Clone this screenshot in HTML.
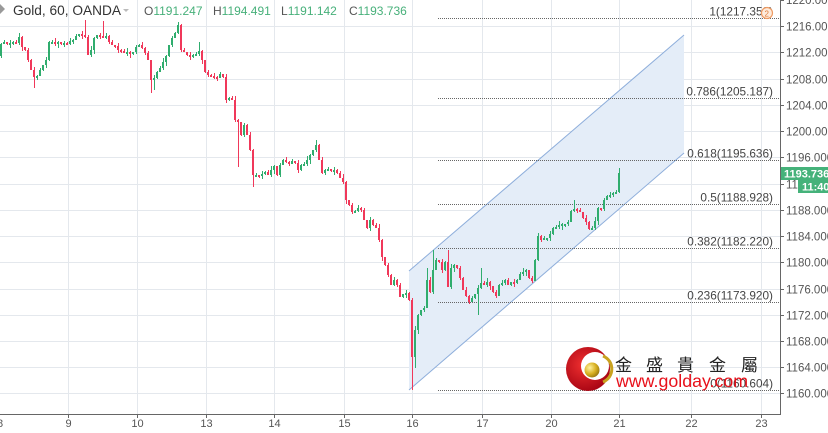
<!DOCTYPE html>
<html><head><meta charset="utf-8">
<style>
html,body{margin:0;padding:0;background:#fff;}
svg{display:block;}
text{font-family:"Liberation Sans",Arial,sans-serif;}
.ax{font-size:11.5px;fill:#555;}
.fb{font-size:11.8px;fill:#444;}
</style></head>
<body>
<svg id="c" width="828" height="433" viewBox="0 0 828 433" xmlns="http://www.w3.org/2000/svg">
<rect width="828" height="433" fill="#fff"/>
<!-- grid -->
<g stroke="#e4e8ed" stroke-width="1">
<line x1="0" x2="780" y1="26.5" y2="26.5"/>
<line x1="0" x2="780" y1="52.5" y2="52.5"/>
<line x1="0" x2="780" y1="79.5" y2="79.5"/>
<line x1="0" x2="780" y1="105.5" y2="105.5"/>
<line x1="0" x2="780" y1="131.5" y2="131.5"/>
<line x1="0" x2="780" y1="157.5" y2="157.5"/>
<line x1="0" x2="780" y1="184.5" y2="184.5"/>
<line x1="0" x2="780" y1="210.5" y2="210.5"/>
<line x1="0" x2="780" y1="236.5" y2="236.5"/>
<line x1="0" x2="780" y1="262.5" y2="262.5"/>
<line x1="0" x2="780" y1="289.5" y2="289.5"/>
<line x1="0" x2="780" y1="315.5" y2="315.5"/>
<line x1="0" x2="780" y1="341.5" y2="341.5"/>
<line x1="0" x2="780" y1="367.5" y2="367.5"/>
<line x1="0" x2="780" y1="393.5" y2="393.5"/>
<line x1="68.5" x2="68.5" y1="0" y2="414"/>
<line x1="137.5" x2="137.5" y1="0" y2="414"/>
<line x1="206.5" x2="206.5" y1="0" y2="414"/>
<line x1="274.5" x2="274.5" y1="0" y2="414"/>
<line x1="344.5" x2="344.5" y1="0" y2="414"/>
<line x1="412.5" x2="412.5" y1="0" y2="414"/>
<line x1="482.5" x2="482.5" y1="0" y2="414"/>
<line x1="551.5" x2="551.5" y1="0" y2="414"/>
<line x1="619.5" x2="619.5" y1="0" y2="414"/>
<line x1="691.5" x2="691.5" y1="0" y2="414"/>
<line x1="761.5" x2="761.5" y1="0" y2="414"/>
</g>
<!-- channel -->
<polygon points="409,271 684,35 684,153 409,390" fill="#e4edf8"/>
<line x1="409" y1="271" x2="684" y2="35" stroke="#8eaedb" stroke-width="1"/>
<line x1="409" y1="390" x2="684" y2="153" stroke="#8eaedb" stroke-width="1"/>
<!-- fib lines -->
<g stroke="#666" stroke-width="1" stroke-dasharray="1,1">
<line x1="438" x2="780" y1="18.5" y2="18.5"/>
<line x1="438" x2="780" y1="98.5" y2="98.5"/>
<line x1="438" x2="780" y1="160.5" y2="160.5"/>
<line x1="438" x2="780" y1="204.5" y2="204.5"/>
<line x1="438" x2="780" y1="248.5" y2="248.5"/>
<line x1="438" x2="780" y1="302.5" y2="302.5"/>
<line x1="438" x2="780" y1="390.5" y2="390.5"/>
</g>
<g class="fb" text-anchor="end">
<text x="773" y="15.5">1(1217.352)</text>
<text x="773" y="95.5">0.786(1205.187)</text>
<text x="773" y="157.5">0.618(1195.636)</text>
<text x="773" y="201.5">0.5(1188.928)</text>
<text x="773" y="245.5">0.382(1182.220)</text>
<text x="773" y="299.5">0.236(1173.920)</text>
<text x="773" y="387.5">0(1160.604)</text>
</g>
<!-- candles -->
<g id="candles"></g>
<!-- alert icon -->
<circle cx="767" cy="13" r="5.5" fill="#fdebdc" stroke="#ee9a62" stroke-width="1.2"/>
<text x="764.5" y="16.5" font-size="8" fill="#e07a3a">2</text>
<!-- axes -->
<rect x="781" y="0" width="47" height="433" fill="#fff"/>
<rect x="0" y="415" width="828" height="18" fill="#fff"/>
<line x1="780.5" y1="0" x2="780.5" y2="415" stroke="#666" stroke-width="1"/>
<line x1="0" y1="414.5" x2="781" y2="414.5" stroke="#666" stroke-width="1"/>
<g stroke="#666" stroke-width="1">
<line x1="780" x2="784" y1="0.5" y2="0.5"/>
<line x1="780" x2="784" y1="26.5" y2="26.5"/>
<line x1="780" x2="784" y1="52.5" y2="52.5"/>
<line x1="780" x2="784" y1="79.5" y2="79.5"/>
<line x1="780" x2="784" y1="105.5" y2="105.5"/>
<line x1="780" x2="784" y1="131.5" y2="131.5"/>
<line x1="780" x2="784" y1="157.5" y2="157.5"/>
<line x1="780" x2="784" y1="184.5" y2="184.5"/>
<line x1="780" x2="784" y1="210.5" y2="210.5"/>
<line x1="780" x2="784" y1="236.5" y2="236.5"/>
<line x1="780" x2="784" y1="262.5" y2="262.5"/>
<line x1="780" x2="784" y1="289.5" y2="289.5"/>
<line x1="780" x2="784" y1="315.5" y2="315.5"/>
<line x1="780" x2="784" y1="341.5" y2="341.5"/>
<line x1="780" x2="784" y1="367.5" y2="367.5"/>
<line x1="780" x2="784" y1="393.5" y2="393.5"/>
<line x1="68.5" x2="68.5" y1="414" y2="418"/>
<line x1="137.5" x2="137.5" y1="414" y2="418"/>
<line x1="206.5" x2="206.5" y1="414" y2="418"/>
<line x1="274.5" x2="274.5" y1="414" y2="418"/>
<line x1="344.5" x2="344.5" y1="414" y2="418"/>
<line x1="412.5" x2="412.5" y1="414" y2="418"/>
<line x1="482.5" x2="482.5" y1="414" y2="418"/>
<line x1="551.5" x2="551.5" y1="414" y2="418"/>
<line x1="619.5" x2="619.5" y1="414" y2="418"/>
<line x1="691.5" x2="691.5" y1="414" y2="418"/>
<line x1="761.5" x2="761.5" y1="414" y2="418"/>
</g>
<g class="ax">
<text x="786" y="4">1220.000</text>
<text x="786" y="30.5">1216.000</text>
<text x="786" y="56.5">1212.000</text>
<text x="786" y="83.5">1208.000</text>
<text x="786" y="109.5">1204.000</text>
<text x="786" y="135.5">1200.000</text>
<text x="786" y="161.5">1196.000</text>
<text x="786" y="188.5">1192.000</text>
<text x="786" y="214.5">1188.000</text>
<text x="786" y="240.5">1184.000</text>
<text x="786" y="266.5">1180.000</text>
<text x="786" y="293.5">1176.000</text>
<text x="786" y="319.5">1172.000</text>
<text x="786" y="345.5">1168.000</text>
<text x="786" y="371.5">1164.000</text>
<text x="786" y="397.5">1160.000</text>
</g>
<g class="ax" text-anchor="middle" style="font-size:11px">
<text x="0" y="427">8</text>
<text x="68.5" y="427">9</text>
<text x="137.5" y="427">10</text>
<text x="206.5" y="427">13</text>
<text x="274.5" y="427">14</text>
<text x="344.5" y="427">15</text>
<text x="412.5" y="427">16</text>
<text x="482.5" y="427">17</text>
<text x="551.5" y="427">20</text>
<text x="619.5" y="427">21</text>
<text x="691.5" y="427">22</text>
<text x="761.5" y="427">23</text>
</g>
<!-- price boxes -->
<rect x="781" y="167" width="47" height="13" fill="#45b27a"/>
<text x="784" y="177.5" font-size="11" font-weight="bold" fill="#fff">1193.736</text>
<rect x="798" y="180" width="30" height="13" fill="#45b27a"/>
<text x="802" y="190.5" font-size="11" font-weight="bold" fill="#fff">11:40</text>
<!-- header -->
<polygon points="0,4 5,9 0,14" fill="#999"/>
<text x="13" y="15" font-size="13.7" fill="#333">Gold, 60, OANDA</text>
<polygon points="123,9 129,9 126,12" fill="#bbb"/>
<g font-size="12">
<text x="144" y="15" fill="#555">O<tspan fill="#47b07a">1191.247</tspan></text>
<text x="213" y="15" fill="#555">H<tspan fill="#47b07a">1194.491</tspan></text>
<text x="281" y="15" fill="#555">L<tspan fill="#47b07a">1191.142</tspan></text>
<text x="349" y="15" fill="#555">C<tspan fill="#47b07a">1193.736</tspan></text>
</g>
<!-- logo -->
<defs>
<radialGradient id="rg" cx="0.4" cy="0.4" r="0.7">
<stop offset="0" stop-color="#f03030"/><stop offset="1" stop-color="#a00010"/>
</radialGradient>
<radialGradient id="gg" cx="0.35" cy="0.35" r="0.7">
<stop offset="0" stop-color="#fff3a0"/><stop offset="0.6" stop-color="#d8b020"/><stop offset="1" stop-color="#9a7a10"/>
</radialGradient>
</defs>
<circle cx="588" cy="369" r="22" fill="url(#rg)"/>
<circle cx="595" cy="366" r="14" fill="#fff"/>
<circle cx="592" cy="370" r="7.5" fill="url(#gg)"/>
<path d="M603,356 A14,14 0 0 1 603,382" fill="none" stroke="#c9a21e" stroke-width="3"/>
<g font-family="'Liberation Sans','Noto Sans CJK TC','Noto Sans CJK SC',sans-serif" font-size="17" fill="#222">
<text x="615" y="371">金</text>
<text x="646" y="371">盛</text>
<text x="677" y="371">貴</text>
<text x="709" y="371">金</text>
<text x="741" y="371">屬</text>
</g>
<text x="616" y="387" font-size="17.8" fill="#e8101a">www.golday.com</text>
</svg>
<script>
(function(){
var W=[[1,44],[4,42],[7,44],[10,43],[13,42],[16,43],[19,37],[22,47],[25,50],[28,60],[31,70],[34,77],[37,76],[40,70],[43,65],[46,60],[49,42],[52,42],[55,43],[58,42],[61,43],[64,43],[67,44],[70,41],[73,40],[76,36],[79,34],[82,35],[85,37],[88,55],[91,50],[94,38],[97,35],[100,36],[103,37],[106,36],[109,42],[112,45],[115,46],[118,50],[121,51],[124,52],[127,52],[130,53],[133,52],[136,47],[139,45],[142,48],[145,53],[148,60],[151,80],[154,78],[157,72],[160,68],[163,62],[166,56],[169,45],[172,38],[175,33],[178,25],[181,50],[184,52],[187,55],[190,56],[193,55],[196,54],[199,51],[202,60],[205,72],[208,75],[211,76],[214,77],[217,78],[220,74],[223,77],[226,100],[229,98],[232,100],[235,120],[238,122],[241,135],[244,125],[247,135],[250,150],[253,175],[256,175],[259,176],[262,174],[265,172],[268,175],[271,170],[274,166],[277,175],[280,165],[283,160],[286,162],[289,164],[292,161],[295,163],[298,170],[301,165],[304,164],[307,160],[310,155],[313,150],[316,145],[319,160],[322,173],[325,170],[328,169],[331,170],[334,170],[337,173],[340,178],[343,182],[346,200],[349,205],[352,212],[355,211],[358,208],[361,210],[364,220],[367,228],[370,220],[373,225],[376,228],[379,240],[382,257],[385,265],[388,275],[391,285],[394,280],[397,285],[400,297],[403,294],[406,293],[409,300],[412,357],[415,330],[418,315],[421,310],[424,308],[427,280],[430,292],[433,270],[436,260],[439,262],[442,270],[445,262],[448,287],[451,268],[454,265],[457,268],[460,278],[463,290],[466,296],[469,302],[472,298],[475,294],[478,288],[481,283],[484,285],[487,282],[490,286],[493,292],[496,296],[499,285],[502,283],[505,280],[508,285],[511,282],[514,283],[517,280],[520,274],[523,272],[526,270],[529,278],[532,281],[535,260],[538,236],[541,240],[544,238],[547,238],[550,234],[553,228],[556,227],[559,225],[562,224],[565,224],[568,222],[571,211],[574,209],[577,210],[580,212],[583,218],[586,222],[589,229],[592,228],[595,221],[598,208],[601,209],[604,200],[607,196],[610,195],[613,193],[616,192],[619,173]];
var HI={85:20,103:21,178:22,199:42,316:140,427:268,433:250,448:250,481:268,574:200,619:168};
var LO={34:88,151:93,154:90,238:167,253:187,412:390,415:368,478:315};
var wu=[1,2,0,3,1,2,4,1,0,2,1,3],wd=[2,0,1,3,1,0,2,4,1,2,0,1];
var g=document.getElementById("candles");
var up="#30ad6e",dn="#f0385a",prev=56,html="";
for(var i=0;i<W.length;i++){
 var x=W[i][0],c=W[i][1],o=prev;prev=c;
 var top=Math.min(o,c),bot=Math.max(o,c);
 if(bot-top<2){bot=top+2;}
 var hi=top-wu[i%12],lo=bot+wd[i%12];
 if(HI[x]!==undefined)hi=Math.min(hi,HI[x]);
 if(LO[x]!==undefined)lo=Math.max(lo,LO[x]);
 var col=(c<=o)?up:dn;
 html+='<rect x="'+x+'" y="'+hi+'" width="1" height="'+(lo-hi)+'" fill="'+col+'"/>';
 html+='<rect x="'+(x-1)+'" y="'+top+'" width="2" height="'+(bot-top)+'" fill="'+col+'"/>';
}
g.innerHTML=html;
})();
</script>
</body></html>
